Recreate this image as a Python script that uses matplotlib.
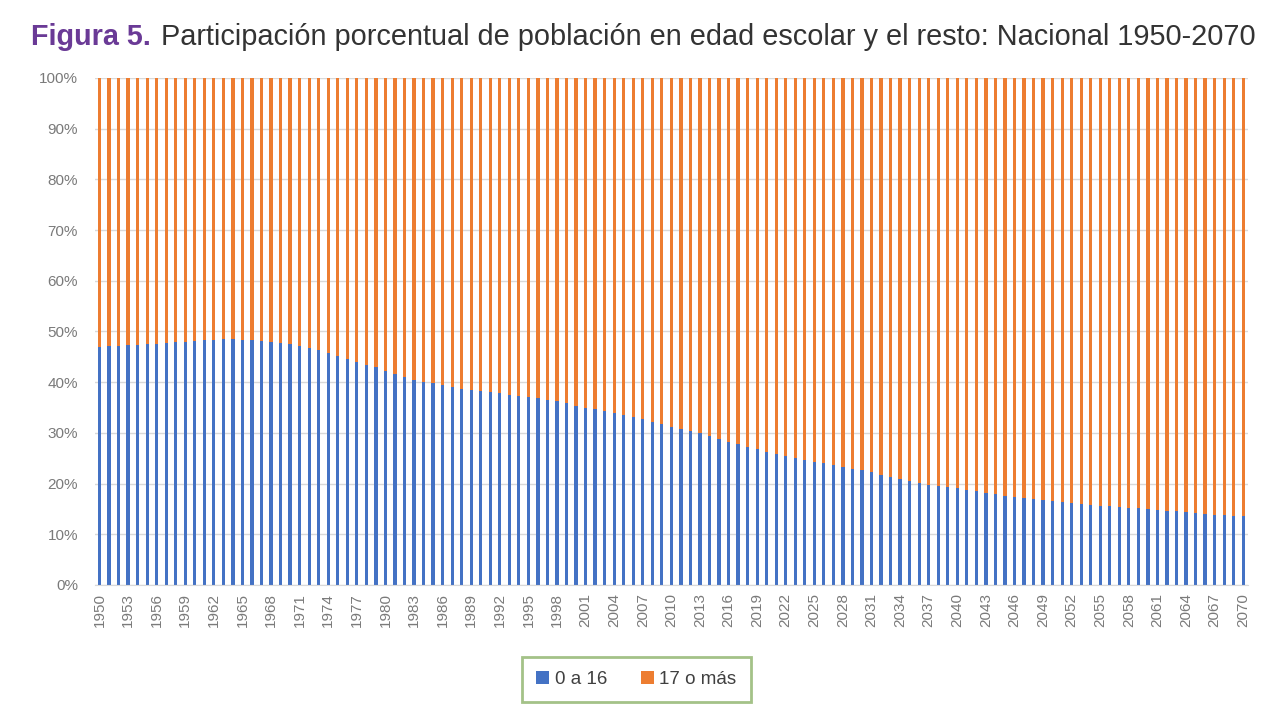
import matplotlib
matplotlib.use("Agg")
import matplotlib.pyplot as plt
from matplotlib.patches import Patch
import numpy as np

years = list(range(1950, 2071))
share_0_16 = [
    47.0, 47.1, 47.2, 47.3, 47.4, 47.5, 47.6, 47.7, 47.9, 48.0,
    48.2, 48.3, 48.4, 48.5, 48.5, 48.4, 48.3, 48.2, 48.0, 47.8,
    47.5, 47.1, 46.7, 46.3, 45.8, 45.2, 44.6, 44.0, 43.4, 42.9,
    42.3, 41.6, 41.0, 40.5, 40.1, 39.8, 39.4, 39.1, 38.7, 38.4,
    38.2, 38.0, 37.8, 37.5, 37.3, 37.0, 36.8, 36.5, 36.2, 35.8,
    35.4, 35.0, 34.7, 34.4, 34.0, 33.6, 33.2, 32.7, 32.2, 31.7,
    31.2, 30.8, 30.4, 29.9, 29.4, 28.8, 28.3, 27.8, 27.3, 26.8,
    26.3, 25.8, 25.4, 25.0, 24.7, 24.3, 24.0, 23.6, 23.3, 22.9,
    22.6, 22.2, 21.7, 21.3, 20.9, 20.5, 20.1, 19.8, 19.5, 19.3,
    19.1, 18.8, 18.5, 18.2, 17.9, 17.6, 17.4, 17.2, 17.0, 16.8,
    16.6, 16.4, 16.2, 16.0, 15.8, 15.6, 15.5, 15.3, 15.2, 15.1,
    14.9, 14.8, 14.6, 14.5, 14.3, 14.2, 14.0, 13.9, 13.8, 13.7,
    13.6,
]
share_17_plus = [100.0 - v for v in share_0_16]
series_names = ["0 a 16", "17 o más"]
ytick_values = list(range(0, 101, 10))
ytick_labels = [f"{v}%" for v in ytick_values]

BLUE = "#4472C4"
ORANGE = "#ED7D31"
TICK_COLOR = "#7A7A7A"
GRID_COLOR = "#D9D9D9"

plt.rcParams['font.family'] = ['Liberation Sans', 'DejaVu Sans']

fig = plt.figure(figsize=(12.8, 7.2), dpi=100)
ax = fig.add_axes([0.074, 0.1875, 0.901, 0.7042])

x = np.arange(len(years))
w = 0.34
ax.bar(x, share_0_16, width=w, color=BLUE, zorder=3)
ax.bar(x, share_17_plus, width=w, bottom=share_0_16, color=ORANGE, zorder=3)

ax.set_xlim(-0.5, len(years) - 0.5)
ax.set_ylim(0, 100)
ax.set_yticks(ytick_values)
ax.set_yticklabels(ytick_labels, color=TICK_COLOR, fontsize=11)
ax.set_xticks(x[::3])
ax.set_xticklabels([str(y) for y in years[::3]], rotation=90, color=TICK_COLOR, fontsize=11)
ax.tick_params(axis='y', length=0, pad=12)
ax.tick_params(axis='x', length=0, pad=6)
ax.yaxis.grid(True, color=GRID_COLOR, linewidth=1, zorder=0)
for s in ['top', 'right', 'left']:
    ax.spines[s].set_visible(False)
ax.spines['bottom'].set_color(GRID_COLOR)
ax.spines['bottom'].set_zorder(4)

# Title in two parts
t1 = fig.text(0.024, 0.948, "Figura 5.", color="#6A3A96", fontsize=20.7,
              fontweight='bold', va='center', ha='left')
fig.canvas.draw()
r = fig.canvas.get_renderer()
bb = t1.get_window_extent(renderer=r)
x2 = (bb.x1 + 10) / fig.bbox.width
fig.text(x2, 0.948, "Participación porcentual de población en edad escolar y el resto: Nacional 1950-2070",
         color="#333333", fontsize=20.8, va='center', ha='left')

handles = [Patch(facecolor=BLUE, label=series_names[0]),
           Patch(facecolor=ORANGE, label=series_names[1])]
leg = fig.legend(handles=handles, loc='center', bbox_to_anchor=(0.497, 0.056), ncol=2,
                 frameon=True, fontsize=13.5, handlelength=0.7, handleheight=0.7,
                 handletextpad=0.3, columnspacing=1.8, borderpad=0.75, borderaxespad=0,
                 fancybox=False, labelcolor="#404040")
leg.get_frame().set_edgecolor("#8DB36A")
leg.get_frame().set_linewidth(2)

fig.savefig("out.png", dpi=100, facecolor="white")
